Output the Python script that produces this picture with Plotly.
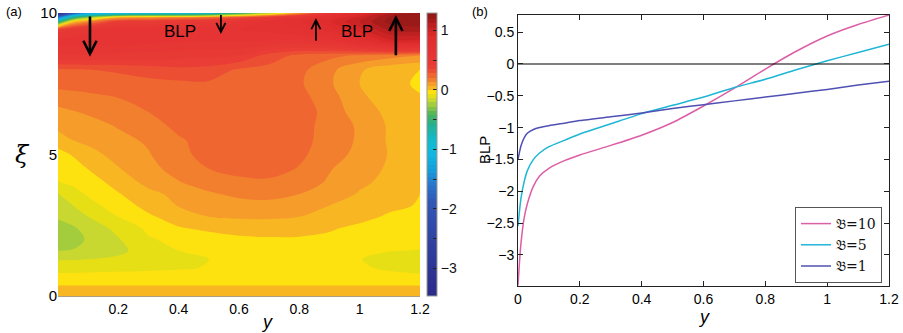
import plotly.graph_objects as go

# ---------------- Panel (a): BLP field over (y, xi) ----------------
y_a = [0, 0.05, 0.1, 0.2, 0.3, 0.4, 0.5, 0.6, 0.7, 0.8, 0.9, 1.0, 1.1, 1.2]
xi_a = [0, 0.2, 0.4, 0.7, 1.0, 1.3, 1.6, 2.0, 2.4, 2.8, 3.2, 3.6, 4.0, 4.5, 5.0,
        5.5, 6.0, 6.5, 7.0, 7.5, 8.0, 8.5, 9.0, 9.4, 9.7, 9.85, 10]
blp_a = [
    [0.045, 0.045, 0.045, 0.045, 0.045, 0.045, 0.045, 0.045, 0.045, 0.045, 0.045, 0.045, 0.045, 0.045],
    [0.03, 0.03, 0.03, 0.03, 0.03, 0.03, 0.03, 0.03, 0.03, 0.03, 0.03, 0.03, 0.03, 0.03],
    [-0.005, -0.005, -0.005, -0.005, -0.005, -0.005, -0.005, -0.005, -0.005, -0.005, -0.005, -0.005, -0.005, -0.005],
    [-0.055, -0.055, -0.052, -0.048, -0.045, -0.042, -0.038, -0.035, -0.035, -0.035, -0.038, -0.045, -0.055, -0.062],
    [-0.095, -0.095, -0.093, -0.09, -0.085, -0.078, -0.066, -0.05, -0.042, -0.042, -0.05, -0.062, -0.08, -0.09],
    [-0.148, -0.145, -0.14, -0.128, -0.11, -0.09, -0.07, -0.05, -0.042, -0.042, -0.05, -0.068, -0.09, -0.1],
    [-0.21, -0.205, -0.19, -0.155, -0.11, -0.07, -0.052, -0.042, -0.038, -0.038, -0.045, -0.058, -0.068, -0.072],
    [-0.27, -0.24, -0.2, -0.145, -0.078, -0.05, -0.03, -0.012, -0.008, -0.008, -0.015, -0.03, -0.045, -0.052],
    [-0.245, -0.22, -0.18, -0.12, -0.055, -0.005, 0.015, 0.025, 0.03, 0.025, 0.008, -0.015, -0.035, -0.045],
    [-0.2, -0.17, -0.14, -0.07, -0.01, 0.03, 0.07, 0.08, 0.08, 0.07, 0.05, 0.02, -0.01, -0.03],
    [-0.17, -0.14, -0.1, -0.03, 0.02, 0.075, 0.1, 0.115, 0.12, 0.105, 0.07, 0.04, 0.015, -0.005],
    [-0.145, -0.1, -0.06, -0.005, 0.05, 0.09, 0.13, 0.155, 0.16, 0.14, 0.1, 0.065, 0.04, 0.0],
    [-0.075, -0.055, -0.035, 0.025, 0.09, 0.135, 0.17, 0.19, 0.195, 0.175, 0.13, 0.08, 0.055, 0.035],
    [-0.04, -0.025, 0.002, 0.065, 0.12, 0.165, 0.21, 0.235, 0.24, 0.205, 0.145, 0.1, 0.06, 0.045],
    [-0.02, 0.005, 0.04, 0.1, 0.135, 0.19, 0.235, 0.25, 0.25, 0.225, 0.17, 0.12, 0.065, 0.045],
    [0.03, 0.07, 0.09, 0.12, 0.15, 0.2, 0.24, 0.255, 0.255, 0.235, 0.18, 0.13, 0.06, 0.04],
    [0.09, 0.1, 0.11, 0.145, 0.175, 0.23, 0.255, 0.265, 0.265, 0.24, 0.18, 0.13, 0.06, 0.04],
    [0.12, 0.135, 0.15, 0.18, 0.21, 0.245, 0.26, 0.27, 0.27, 0.245, 0.185, 0.1, 0.055, 0.035],
    [0.17, 0.18, 0.19, 0.21, 0.24, 0.26, 0.27, 0.275, 0.27, 0.235, 0.17, 0.085, 0.035, 0.005],
    [0.235, 0.24, 0.245, 0.25, 0.26, 0.265, 0.27, 0.27, 0.26, 0.22, 0.15, 0.07, 0.02, -0.01],
    [0.27, 0.275, 0.28, 0.29, 0.31, 0.33, 0.32, 0.27, 0.255, 0.23, 0.16, 0.08, 0.025, 0.0],
    [0.48, 0.48, 0.48, 0.47, 0.46, 0.45, 0.44, 0.42, 0.32, 0.26, 0.23, 0.2, 0.17, 0.14],
    [0.6, 0.6, 0.6, 0.6, 0.58, 0.57, 0.56, 0.56, 0.55, 0.55, 0.6, 0.75, 0.95, 0.95],
    [0.45, 0.5, 0.55, 0.62, 0.62, 0.62, 0.62, 0.63, 0.65, 0.7, 0.8, 0.95, 1.12, 1.15],
    [-0.6, 0.0, 0.15, 0.4, 0.42, 0.45, 0.48, 0.55, 0.65, 0.75, 0.9, 1.05, 1.22, 1.25],
    [-1.7, -0.6, -0.3, 0.05, 0.1, 0.15, 0.2, 0.3, 0.45, 0.6, 0.8, 1.0, 1.2, 1.25],
    [-3.4, -2.0, -1.3, -1.1, -1.05, -1.0, -0.9, -0.55, -0.25, 0.1, 0.5, 0.85, 1.1, 1.2],
]

# arrows in panel (a): (y, tail xi, head xi, width)
arrow_y = [0.106, 0.54, 0.855, 1.12]
arrow_tail = [9.93, 9.98, 8.97, 8.45]
arrow_head = [8.45, 9.26, 9.82, 9.93]
arrow_w = [2.6, 1.8, 1.8, 2.6]
blp_label_y = [0.405, 0.99]
blp_label_xi = [9.33, 9.36]

cbar_ticks = [-3, -2.5, -2, -1.5, -1, -0.5, 0, 0.5, 1]
cbar_text = ["\u22123", "", "\u22122", "", "\u22121", "", "0", "", "1"]

# ---------------- Panel (b): BLP profiles ----------------
y_b = [0, 0.005, 0.01, 0.02, 0.03, 0.05, 0.07, 0.1, 0.15, 0.2, 0.3, 0.4, 0.5,
       0.6, 0.7, 0.8, 0.9, 1.0, 1.1, 1.2]
blp_B10 = [-3.48, -3.1, -2.8, -2.42, -2.2, -1.92, -1.76, -1.64, -1.52, -1.43, -1.28,
           -1.12, -0.92, -0.66, -0.38, -0.08, 0.2, 0.44, 0.62, 0.77]
blp_B5 = [-2.55, -2.3, -2.1, -1.85, -1.68, -1.5, -1.4, -1.3, -1.2, -1.1, -0.94,
          -0.78, -0.65, -0.52, -0.37, -0.24, -0.09, 0.05, 0.18, 0.31]
blp_B1 = [-1.5, -1.38, -1.28, -1.16, -1.09, -1.03, -1.0, -0.97, -0.93, -0.89, -0.83,
          -0.77, -0.70, -0.64, -0.58, -0.52, -0.46, -0.40, -0.33, -0.27]
series_names = ["\U0001D505=10", "\U0001D505=5", "\U0001D505=1"]
series_colors = ["#dc5ea6", "#1fb6d6", "#5050b4"]
xticks_b = [0, 0.2, 0.4, 0.6, 0.8, 1, 1.2]
yticks_b = [-3, -2.5, -2, -1.5, -1, -0.5, 0, 0.5]

# ---------------- colour scale (value -> colour) ----------------
c_start, c_end, c_size = -3.43, 1.26, 0.07
lo, hi = c_start - c_size / 2, c_end + c_size / 2
cmap_pts = [
    (-3.465, "#2b2a87"), (-2.6, "#30409f"), (-1.9, "#3157b4"), (-1.6, "#2a74c9"),
    (-1.35, "#169ddb"), (-1.05, "#10bade"), (-0.8, "#14b8c4"), (-0.6, "#24b094"),
    (-0.42, "#48b25c"), (-0.245, "#a3cd3c"), (-0.175, "#c8d830"), (-0.105, "#e7df16"),
    (-0.035, "#fde20f"), (0.035, "#f9b623"), (0.105, "#f59c2b"), (0.175, "#f27f2e"),
    (0.245, "#ef6631"), (0.315, "#ec4e33"), (0.385, "#e93d35"), (0.6, "#e63434"),
    (0.9, "#df2b2b"), (1.05, "#c62222"), (1.15, "#aa1c1c"), (1.295, "#8c1616"),
]
colorscale = [[min(1.0, max(0.0, (v - lo) / (hi - lo))), c] for v, c in cmap_pts]
colorscale[0][0] = 0.0
colorscale[-1][0] = 1.0

W, H = 903, 333
def px_x(p):
    return p / W
def px_y(p):
    return 1 - p / H

FONT = "Liberation Sans, Arial, sans-serif"

fig = go.Figure()

fig.add_trace(go.Contour(
    x=y_a, y=xi_a, z=blp_a,
    colorscale=colorscale,
    autocontour=False,
    contours=dict(start=c_start, end=c_end, size=c_size, coloring="fill", showlines=False),
    line=dict(width=0, smoothing=1.0),
    xaxis="x", yaxis="y",
    colorbar=dict(
        x=px_x(427), xanchor="left", y=px_y(13), yanchor="top",
        len=(296 - 13) / H, lenmode="fraction", thickness=10,
        thicknessmode="pixels",
        tickvals=cbar_ticks, ticktext=cbar_text,
        ticks="inside", ticklen=4, tickcolor="#222", tickwidth=1,
        outlinecolor="#999", outlinewidth=1,
        tickfont=dict(family=FONT, size=14, color="#111"),
        xpad=0, ypad=0,
    ),
    hoverinfo="skip",
))

for name, vals, col in zip(series_names, [blp_B10, blp_B5, blp_B1], series_colors):
    fig.add_trace(go.Scatter(
        x=y_b, y=vals, mode="lines", name=name,
        line=dict(color=col, width=1.5, shape="spline", smoothing=0.6),
        xaxis="x2", yaxis="y2",
    ))

fig.add_trace(go.Scatter(x=[xticks_b[0], xticks_b[-1]], y=[0, 0], mode="lines",
                         line=dict(color="black", width=1.2), showlegend=False,
                         xaxis="x2", yaxis="y2", hoverinfo="skip"))

annotations = []
for yy, t, h, w in zip(arrow_y, arrow_tail, arrow_head, arrow_w):
    annotations.append(dict(
        x=yy, y=h, ax=yy, ay=t, xref="x", yref="y", axref="x", ayref="y",
        showarrow=True, arrowhead=5, arrowsize=1.0, arrowwidth=w,
        arrowcolor="black", text="",
    ))
for yy, xx in zip(blp_label_y, blp_label_xi):
    annotations.append(dict(x=yy, y=xx, xref="x", yref="y", text="BLP", showarrow=False,
                            xanchor="center", yanchor="middle",
                            font=dict(family=FONT, size=17, color="black")))

def paper_text(px, py, text, size, family=FONT, angle=0):
    return dict(x=px_x(px), y=px_y(py), xref="paper", yref="paper", text=text,
                showarrow=False, xanchor="center", yanchor="middle", textangle=angle,
                font=dict(family=family, size=size, color="black"))

annotations += [
    paper_text(14, 12, "(a)", 13),
    paper_text(480, 12, "(b)", 13),
    paper_text(22, 155, "<i>\u03be</i>", 24, family="DejaVu Serif, serif"),
    paper_text(267, 322, "<i>y</i>", 18),
    paper_text(704, 317, "<i>y</i>", 18),
    paper_text(484, 150, "BLP", 15, angle=-90),
]

fig.update_layout(
    width=W, height=H, autosize=False,
    margin=dict(l=0, r=0, t=0, b=0, pad=0, autoexpand=False),
    paper_bgcolor="white", plot_bgcolor="white",
    font=dict(family=FONT, size=14, color="black"),
    xaxis=dict(domain=[px_x(58), px_x(420)], range=[0, 1.2], anchor="y",
               tickvals=[0.2, 0.4, 0.6, 0.8, 1, 1.2], ticktext=["0.2", "0.4", "0.6", "0.8", "1", "1.2"],
               showgrid=False, zeroline=False, showline=True, linecolor="#b0a080", linewidth=1,
               ticks="", ticklen=0, tickfont=dict(size=14)),
    yaxis=dict(domain=[px_y(296), px_y(13)], range=[0, 10], anchor="x",
               tickvals=[0, 5, 10], showgrid=False, zeroline=False, showline=False,
               ticks="", ticklen=0, tickfont=dict(size=15)),
    xaxis2=dict(domain=[px_x(518), px_x(889)], range=[0, 1.2], anchor="y2",
                tickvals=xticks_b, ticktext=["0", "0.2", "0.4", "0.6", "0.8", "1", "1.2"],
                showgrid=False, zeroline=False, showline=True, linecolor="#222", linewidth=1,
                mirror="ticks", ticks="inside", ticklen=5, tickcolor="#222",
                tickfont=dict(size=14)),
    yaxis2=dict(domain=[px_y(286), px_y(15)], range=[-3.49, 0.77], anchor="x2",
                tickvals=yticks_b, ticktext=["\u22123", "\u22122.5", "\u22122", "\u22121.5", "\u22121", "\u22120.5", "0", "0.5"],
                showgrid=False, zeroline=False, showline=True, linecolor="#222", linewidth=1,
                mirror="ticks", ticks="inside", ticklen=5, tickcolor="#222",
                tickfont=dict(size=14)),
    legend=dict(x=px_x(882), xanchor="right", y=px_y(207), yanchor="top",
                bgcolor="white", bordercolor="#555", borderwidth=1,
                font=dict(family="DejaVu Serif, Liberation Serif, serif", size=14, color="#111"),
                itemwidth=30, tracegroupgap=0),
    annotations=annotations,
    showlegend=True,
)

fig.write_html("out.html", config={"displayModeBar": False},
               post_script="document.body.style.margin='0px';document.body.style.padding='0px';")
